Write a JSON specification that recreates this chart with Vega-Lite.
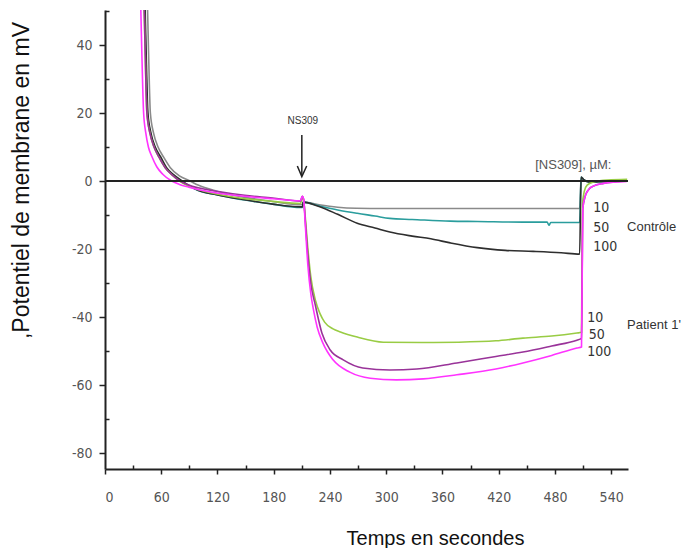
{
  "$schema": "https://vega.github.io/schema/vega-lite/v6.json",
  "width": 523,
  "height": 459,
  "autosize": {"type": "none"},
  "padding": {"left": 105, "top": 10, "right": 55, "bottom": 79},
  "background": "white",
  "config": {
    "view": {"stroke": null},
    "axis": {
      "grid": false,
      "domainColor": "#222",
      "domainWidth": 2,
      "tickColor": "#222",
      "tickWidth": 1.5,
      "labelColor": "#555",
      "labelFont": "Liberation Sans Narrow, DejaVu Sans Condensed, Liberation Sans",
      "labelFontSize": 14,
      "titleFont": "Liberation Sans",
      "titleFontWeight": "normal",
      "titleColor": "#111"
    }
  },
  "datasets": {
    "traces": [
      {"s":"C10","t":44.6,"v":60},{"s":"C10","t":46.3,"v":40},{"s":"C10","t":48.4,"v":20},{"s":"C10","t":51.9,"v":14},{"s":"C10","t":56.6,"v":10},{"s":"C10","t":62.6,"v":7},{"s":"C10","t":69.5,"v":4},{"s":"C10","t":79.4,"v":1.5},{"s":"C10","t":90.8,"v":0},{"s":"C10","t":99.3,"v":-1.2},{"s":"C10","t":119.2,"v":-3.0},{"s":"C10","t":149,"v":-4.8},{"s":"C10","t":178.7,"v":-6.0},{"s":"C10","t":208.5,"v":-7.0},{"s":"C10","t":210.5,"v":-6.8},{"s":"C10","t":211.5,"v":-6.2},{"s":"C10","t":228.4,"v":-7.0},{"s":"C10","t":248.3,"v":-7.7},{"s":"C10","t":268.1,"v":-8.0},{"s":"C10","t":298,"v":-8.1},{"s":"C10","t":397,"v":-8.1},{"s":"C10","t":506.4,"v":-8.1},{"s":"C10","t":508,"v":1.0},{"s":"C10","t":510.4,"v":0.5},{"s":"C10","t":516.4,"v":-0.3},{"s":"C10","t":526.3,"v":-0.2},{"s":"C10","t":549,"v":0},
      {"s":"C50","t":41.5,"v":60},{"s":"C50","t":43.2,"v":40},{"s":"C50","t":45.3,"v":20},{"s":"C50","t":48.6,"v":14},{"s":"C50","t":53.1,"v":10},{"s":"C50","t":58.6,"v":7},{"s":"C50","t":64.5,"v":4},{"s":"C50","t":72.5,"v":1.8},{"s":"C50","t":81.4,"v":0},{"s":"C50","t":89.4,"v":-1.4},{"s":"C50","t":99.3,"v":-2.8},{"s":"C50","t":119.2,"v":-4.0},{"s":"C50","t":149,"v":-5.6},{"s":"C50","t":178.7,"v":-6.8},{"s":"C50","t":208.5,"v":-7.8},{"s":"C50","t":210.5,"v":-7.8},{"s":"C50","t":211.5,"v":-6.2},{"s":"C50","t":228.4,"v":-7.3},{"s":"C50","t":248.3,"v":-8.5},{"s":"C50","t":269.1,"v":-9.5},{"s":"C50","t":288,"v":-10.3},{"s":"C50","t":303.9,"v":-11},{"s":"C50","t":327.7,"v":-11.3},{"s":"C50","t":368.4,"v":-11.8},{"s":"C50","t":397.2,"v":-11.9},{"s":"C50","t":445.9,"v":-12.1},{"s":"C50","t":471.7,"v":-12.1},{"s":"C50","t":473.7,"v":-13},{"s":"C50","t":475.6,"v":-12.2},{"s":"C50","t":506.4,"v":-12.2},{"s":"C50","t":508,"v":1.2},{"s":"C50","t":510.4,"v":0.5},{"s":"C50","t":516.4,"v":-0.3},{"s":"C50","t":526.3,"v":-0.2},{"s":"C50","t":549,"v":0},
      {"s":"C100","t":42,"v":60},{"s":"C100","t":43.7,"v":40},{"s":"C100","t":45.8,"v":20},{"s":"C100","t":49.1,"v":14},{"s":"C100","t":53.6,"v":10},{"s":"C100","t":59.6,"v":7},{"s":"C100","t":65.5,"v":4},{"s":"C100","t":73.5,"v":1.8},{"s":"C100","t":82.4,"v":0},{"s":"C100","t":89.4,"v":-1.3},{"s":"C100","t":99.3,"v":-2.7},{"s":"C100","t":119.2,"v":-4.0},{"s":"C100","t":149,"v":-5.5},{"s":"C100","t":178.7,"v":-6.8},{"s":"C100","t":208.5,"v":-7.6},{"s":"C100","t":210.5,"v":-7.6},{"s":"C100","t":211.5,"v":-6.2},{"s":"C100","t":228.4,"v":-7.5},{"s":"C100","t":248.3,"v":-9.8},{"s":"C100","t":269.1,"v":-12.4},{"s":"C100","t":288,"v":-13.8},{"s":"C100","t":303.9,"v":-15.0},{"s":"C100","t":327.7,"v":-16.2},{"s":"C100","t":347.6,"v":-17.0},{"s":"C100","t":368.4,"v":-18.2},{"s":"C100","t":397.2,"v":-19.6},{"s":"C100","t":427,"v":-20.4},{"s":"C100","t":456.8,"v":-20.7},{"s":"C100","t":486.6,"v":-21.1},{"s":"C100","t":506.4,"v":-21.5},{"s":"C100","t":508,"v":1.2},{"s":"C100","t":510.4,"v":0.5},{"s":"C100","t":516.4,"v":-0.3},{"s":"C100","t":526.3,"v":-0.2},{"s":"C100","t":549,"v":0},
      {"s":"P10","t":41,"v":60},{"s":"P10","t":42.7,"v":40},{"s":"P10","t":44.7,"v":20},{"s":"P10","t":48,"v":14},{"s":"P10","t":52.3,"v":10},{"s":"P10","t":57.6,"v":7},{"s":"P10","t":64,"v":4},{"s":"P10","t":71.5,"v":1.8},{"s":"P10","t":79.4,"v":0},{"s":"P10","t":89.4,"v":-1.5},{"s":"P10","t":99.3,"v":-2.5},{"s":"P10","t":119.2,"v":-3.8},{"s":"P10","t":149,"v":-5.2},{"s":"P10","t":178.7,"v":-6.0},{"s":"P10","t":208.5,"v":-6.6},{"s":"P10","t":210.5,"v":-5.0},{"s":"P10","t":212,"v":-6.0},{"s":"P10","t":213.5,"v":-10},{"s":"P10","t":216.5,"v":-20},{"s":"P10","t":219.5,"v":-28},{"s":"P10","t":224.4,"v":-35},{"s":"P10","t":229.4,"v":-39},{"s":"P10","t":234.3,"v":-41.5},{"s":"P10","t":243.3,"v":-43.5},{"s":"P10","t":251.2,"v":-44.4},{"s":"P10","t":269.1,"v":-45.9},{"s":"P10","t":297,"v":-47.4},{"s":"P10","t":337.6,"v":-47.5},{"s":"P10","t":377.3,"v":-47.4},{"s":"P10","t":417,"v":-47.0},{"s":"P10","t":445.9,"v":-46.2},{"s":"P10","t":476.6,"v":-45.6},{"s":"P10","t":503.5,"v":-44.7},{"s":"P10","t":508.4,"v":-44.5},{"s":"P10","t":509.4,"v":-7},{"s":"P10","t":511.4,"v":-3},{"s":"P10","t":514.4,"v":-1.2},{"s":"P10","t":521.3,"v":-0.3},{"s":"P10","t":536.2,"v":0.3},{"s":"P10","t":557.1,"v":0.5},
      {"s":"P50","t":41,"v":60},{"s":"P50","t":42.7,"v":40},{"s":"P50","t":44.7,"v":20},{"s":"P50","t":48,"v":14},{"s":"P50","t":52.3,"v":10},{"s":"P50","t":57.6,"v":7},{"s":"P50","t":64,"v":4},{"s":"P50","t":71.5,"v":1.8},{"s":"P50","t":80,"v":0},{"s":"P50","t":89.4,"v":-1.2},{"s":"P50","t":99.3,"v":-2.0},{"s":"P50","t":119.2,"v":-3.0},{"s":"P50","t":149,"v":-4.2},{"s":"P50","t":178.7,"v":-5.0},{"s":"P50","t":208.5,"v":-5.9},{"s":"P50","t":210.5,"v":-4.5},{"s":"P50","t":212,"v":-5.5},{"s":"P50","t":213.5,"v":-11},{"s":"P50","t":216.5,"v":-22},{"s":"P50","t":219.5,"v":-30},{"s":"P50","t":224.4,"v":-36.5},{"s":"P50","t":231.4,"v":-44.7},{"s":"P50","t":240.3,"v":-49.7},{"s":"P50","t":254.2,"v":-52.6},{"s":"P50","t":275,"v":-55},{"s":"P50","t":303.9,"v":-55.6},{"s":"P50","t":332.7,"v":-55.3},{"s":"P50","t":375.4,"v":-53.5},{"s":"P50","t":417,"v":-51.6},{"s":"P50","t":445.9,"v":-50.3},{"s":"P50","t":476.6,"v":-48.5},{"s":"P50","t":503.5,"v":-46.8},{"s":"P50","t":508.4,"v":-46.3},{"s":"P50","t":509.8,"v":-8},{"s":"P50","t":512.2,"v":-4.6},{"s":"P50","t":515.8,"v":-2.6},{"s":"P50","t":521,"v":-1.5},{"s":"P50","t":531.8,"v":-0.7},{"s":"P50","t":544.2,"v":-0.3},{"s":"P50","t":556.7,"v":0},
      {"s":"P100","t":37.4,"v":60},{"s":"P100","t":39.1,"v":40},{"s":"P100","t":41.2,"v":20},{"s":"P100","t":43.6,"v":14},{"s":"P100","t":46.3,"v":10},{"s":"P100","t":49.9,"v":7.3},{"s":"P100","t":55.2,"v":4.2},{"s":"P100","t":61.6,"v":2},{"s":"P100","t":71.2,"v":0},{"s":"P100","t":79.4,"v":-1},{"s":"P100","t":89.4,"v":-1.8},{"s":"P100","t":99.3,"v":-2.5},{"s":"P100","t":119.2,"v":-3.5},{"s":"P100","t":149,"v":-4.5},{"s":"P100","t":178.7,"v":-5.2},{"s":"P100","t":208.5,"v":-5.8},{"s":"P100","t":210.5,"v":-4.5},{"s":"P100","t":212,"v":-5.5},{"s":"P100","t":213.5,"v":-12},{"s":"P100","t":216.5,"v":-25},{"s":"P100","t":219.5,"v":-33},{"s":"P100","t":222.5,"v":-38},{"s":"P100","t":226.4,"v":-43},{"s":"P100","t":232.4,"v":-47.6},{"s":"P100","t":243.3,"v":-52.6},{"s":"P100","t":261.2,"v":-56.2},{"s":"P100","t":283,"v":-58},{"s":"P100","t":310.8,"v":-58.5},{"s":"P100","t":339.6,"v":-58.2},{"s":"P100","t":375.4,"v":-57},{"s":"P100","t":417,"v":-55.3},{"s":"P100","t":445.9,"v":-53.5},{"s":"P100","t":476.6,"v":-51.3},{"s":"P100","t":503.5,"v":-49.1},{"s":"P100","t":508.4,"v":-48.8},{"s":"P100","t":509.8,"v":-8},{"s":"P100","t":512.2,"v":-4.6},{"s":"P100","t":515.8,"v":-2.6},{"s":"P100","t":521,"v":-1.5},{"s":"P100","t":531.8,"v":-0.7},{"s":"P100","t":544.2,"v":-0.3},{"s":"P100","t":556.7,"v":-0.1}
    ],
    "arrow": [
      {"g":"shaft","o":1,"t":210,"v":13.5},{"g":"shaft","o":2,"t":210,"v":1.5},
      {"g":"head","o":1,"t":205.2,"v":4.4},{"g":"head","o":2,"t":210,"v":1.3},{"g":"head","o":3,"t":215.2,"v":4.4}
    ],
    "nslabel": [{"t":211,"v":17.7,"label":"NS309"}],
    "header": [{"t":459,"v":4.7,"label":"[NS309], µM:"}],
    "nums": [
      {"t":520.8,"v":-8.0,"label":"10"},{"t":520.8,"v":-13.8,"label":"50"},{"t":520.8,"v":-19.5,"label":"100"},
      {"t":514.4,"v":-40.3,"label":"10"},{"t":516,"v":-45.3,"label":"50"},{"t":514.4,"v":-50.2,"label":"100"}
    ],
    "names": [
      {"t":557,"v":-13.4,"label":"Contrôle"},
      {"t":557,"v":-42.4,"label":"Patient 1'"}
    ]
  },
  "resolve": {
    "scale": {"x": "shared", "y": "shared"},
    "axis": {"x": "independent", "y": "independent"}
  },
  "layer": [
    {
      "data": {"name": "traces"},
      "mark": {"type": "line", "clip": true, "strokeWidth": 1.6, "interpolate": "monotone"},
      "encoding": {
        "x": {
          "field": "t", "type": "quantitative",
          "scale": {"domain": [0, 558], "nice": false, "zero": false},
          "axis": {
            "orient": "bottom",
            "values": [0, 60, 120, 180, 240, 300, 360, 420, 480, 540],
            "tickSize": 5,
            "labelPadding": 16,
            "title": "Temps en secondes",
            "titleFontSize": 20,
            "titleX": 330,
            "titleY": 75,
            "titleAlign": "center",
            "titleBaseline": "alphabetic"
          }
        },
        "y": {
          "field": "v", "type": "quantitative",
          "scale": {"domain": [-84.7, 50.3], "nice": false, "zero": false},
          "axis": {
            "orient": "left",
            "values": [-80, -60, -40, -20, 0, 20, 40],
            "labelExpr": "replace(datum.label, '−', '-')",
            "tickSize": 6,
            "labelPadding": 7,
            "title": ",Potentiel de membrane en mV",
            "titleFontSize": 23,
            "titleAngle": -90,
            "titleX": -77,
            "titleY": 170,
            "titleAlign": "center",
            "titleBaseline": "alphabetic"
          }
        },
        "color": {
          "field": "s", "type": "nominal",
          "scale": {
            "domain": ["C10", "C50", "C100", "P10", "P50", "P100"],
            "range": ["#8a8a8a", "#2a9d9d", "#2e2e2e", "#99cc44", "#993399", "#ff33ff"]
          },
          "legend": null
        }
      }
    },
    {
      "data": {"values": [{}]},
      "mark": {"type": "rule", "color": "#222", "strokeWidth": 2},
      "encoding": {
        "y": {"datum": 0, "type": "quantitative", "axis": null}
      }
    },
    {
      "data": {"name": "arrow"},
      "mark": {"type": "line", "color": "#222", "strokeWidth": 1.5},
      "encoding": {
        "x": {
          "field": "t", "type": "quantitative",
          "axis": {
            "orient": "bottom",
            "values": [30, 90, 150, 210, 270, 330, 390, 450, 510],
            "labels": false, "domain": false, "tickSize": -4, "title": null
          }
        },
        "y": {
          "field": "v", "type": "quantitative",
          "axis": {
            "orient": "left",
            "values": [-70, -50, -30, -10, 10, 30, 50],
            "labels": false, "domain": false, "tickSize": -4, "title": null
          }
        },
        "detail": {"field": "g"},
        "order": {"field": "o"}
      }
    },
    {
      "data": {"name": "nslabel"},
      "mark": {"type": "text", "font": "Liberation Sans", "fontSize": 10, "color": "#333", "align": "center", "baseline": "middle"},
      "encoding": {
        "x": {"field": "t", "type": "quantitative", "axis": null},
        "y": {"field": "v", "type": "quantitative", "axis": null},
        "text": {"field": "label"}
      }
    },
    {
      "data": {"name": "header"},
      "mark": {"type": "text", "font": "Liberation Sans", "fontSize": 13, "color": "#555", "align": "left", "baseline": "middle"},
      "encoding": {
        "x": {"field": "t", "type": "quantitative", "axis": null},
        "y": {"field": "v", "type": "quantitative", "axis": null},
        "text": {"field": "label"}
      }
    },
    {
      "data": {"name": "nums"},
      "mark": {"type": "text", "font": "Liberation Sans Narrow, DejaVu Sans Condensed, Liberation Sans", "fontSize": 14, "color": "#333", "align": "left", "baseline": "middle"},
      "encoding": {
        "x": {"field": "t", "type": "quantitative", "axis": null},
        "y": {"field": "v", "type": "quantitative", "axis": null},
        "text": {"field": "label"}
      }
    },
    {
      "data": {"name": "names"},
      "mark": {"type": "text", "font": "Liberation Sans", "fontSize": 13, "color": "#333", "align": "left", "baseline": "middle"},
      "encoding": {
        "x": {"field": "t", "type": "quantitative", "axis": null},
        "y": {"field": "v", "type": "quantitative", "axis": null},
        "text": {"field": "label"}
      }
    }
  ]
}
